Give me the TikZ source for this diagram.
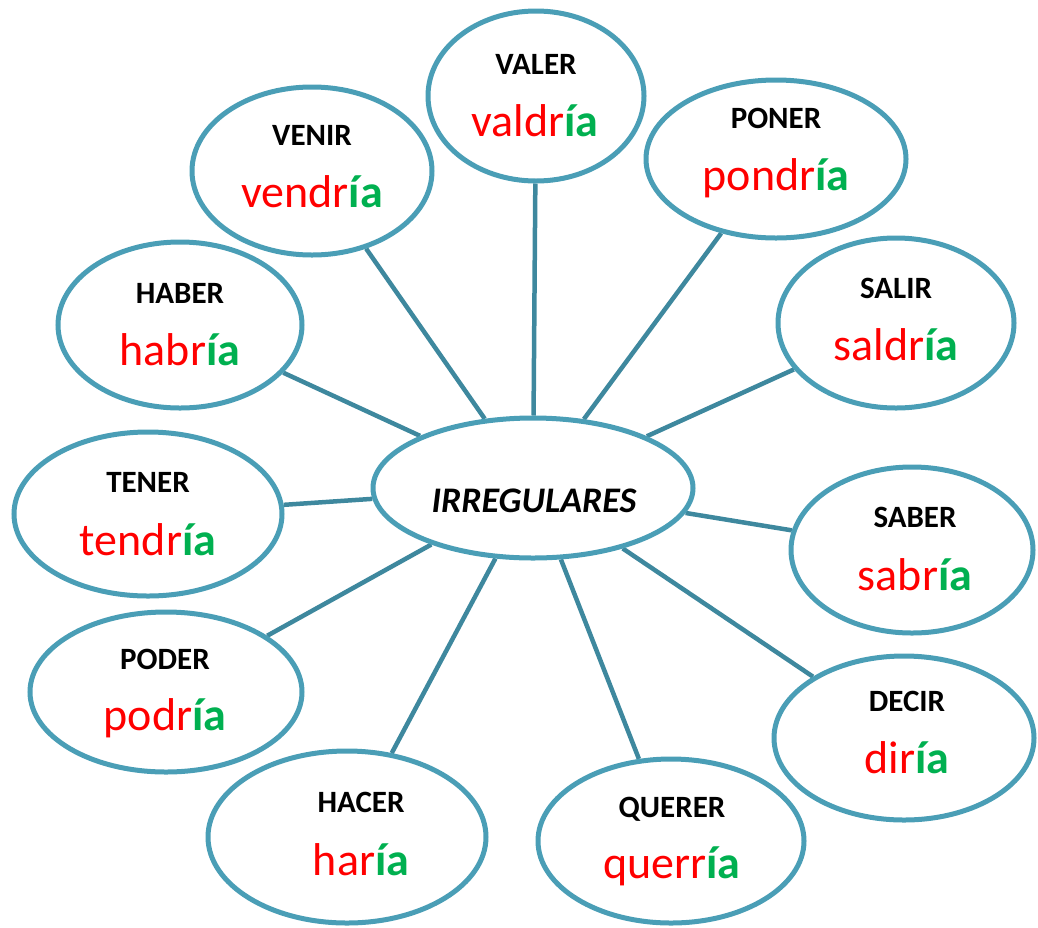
\documentclass[tikz,border=0pt]{standalone}
\usepackage{fontspec}
\setmainfont{Carlito}
\usetikzlibrary{shapes.geometric,backgrounds}
\definecolor{ringblue}{HTML}{4A9EB6}
\definecolor{spoke}{HTML}{3E889E}
\definecolor{stemred}{HTML}{FF0000}
\definecolor{endgreen}{HTML}{00B050}
\tikzset{
  bubble/.style={ellipse, draw=ringblue, line width=5pt, fill=white, inner sep=0pt},
  spokeline/.style={draw=spoke, line width=4.5pt},
  verbtitle/.style={anchor=base, font=\fontsize{31}{36}\selectfont\bfseries, inner sep=0pt},
  verbform/.style={anchor=base, font=\fontsize{46}{52}\selectfont, inner sep=0pt}
}
\newcommand{\vform}[2]{\textcolor{stemred}{#1}\textcolor{endgreen}{\bfseries #2}}
\begin{document}
\begin{tikzpicture}[x=1pt,y=-1pt]
\useasboundingbox (0,0) rectangle (1038,927);
% bubbles
\node[bubble, minimum width=216pt, minimum height=170pt] (valer) at (536,96) {};
\node[bubble, minimum width=260pt, minimum height=158pt] (poner) at (776,159) {};
\node[bubble, minimum width=240pt, minimum height=168pt] (venir) at (312,171) {};
\node[bubble, minimum width=244pt, minimum height=166pt] (haber) at (180,325) {};
\node[bubble, minimum width=236pt, minimum height=170pt] (salir) at (896,323) {};
\node[bubble, minimum width=320pt, minimum height=140pt] (irr) at (533,488) {};
\node[bubble, minimum width=268pt, minimum height=164pt] (tener) at (148,514) {};
\node[bubble, minimum width=242pt, minimum height=166pt] (saber) at (912,550) {};
\node[bubble, minimum width=272pt, minimum height=160pt] (poder) at (166,692) {};
\node[bubble, minimum width=260pt, minimum height=164pt] (decir) at (904,738) {};
\node[bubble, minimum width=278pt, minimum height=172pt] (hacer) at (347,837) {};
\node[bubble, minimum width=266pt, minimum height=164pt] (querer) at (671,841) {};
% spokes
\begin{scope}[on background layer]
\foreach \n in {valer,poner,venir,haber,salir,tener,saber,poder,decir,hacer,querer}
  \draw[spokeline] (irr) -- (\n);
\end{scope}
% texts
\node[anchor=base, inner sep=0pt, font=\fontsize{36}{42}\selectfont\bfseries\itshape] (irrtext) at (534,512) {IRREGULARES};
\node[verbtitle] (t1) at (536,74) {VALER};
\node[verbform] (f1) at (535,136) {\vform{valdr}{ía}};
\node[verbtitle] (t2) at (776,128) {PONER};
\node[verbform] (f2) at (776,190) {\vform{pondr}{ía}};
\node[verbtitle] (t3) at (312,145) {VENIR};
\node[verbform] (f3) at (312,207) {\vform{vendr}{ía}};
\node[verbtitle] (t4) at (180,303) {HABER};
\node[verbform] (f4) at (180,365) {\vform{habr}{ía}};
\node[verbtitle] (t5) at (896,298) {SALIR};
\node[verbform] (f5) at (896,360) {\vform{saldr}{ía}};
\node[verbtitle] (t6) at (148,492) {TENER};
\node[verbform] (f6) at (148,555) {\vform{tendr}{ía}};
\node[verbtitle] (t7) at (915,527) {SABER};
\node[verbform] (f7) at (915,590) {\vform{sabr}{ía}};
\node[verbtitle] (t8) at (165,669) {PODER};
\node[verbform] (f8) at (165,730) {\vform{podr}{ía}};
\node[verbtitle] (t9) at (907,711) {DECIR};
\node[verbform] (f9) at (907,773) {\vform{dir}{ía}};
\node[verbtitle] (t10) at (361,812) {HACER};
\node[verbform] (f10) at (361,875) {\vform{har}{ía}};
\node[verbtitle] (t11) at (672,817) {QUERER};
\node[verbform] (f11) at (672,878) {\vform{querr}{ía}};
\end{tikzpicture}
\end{document}
